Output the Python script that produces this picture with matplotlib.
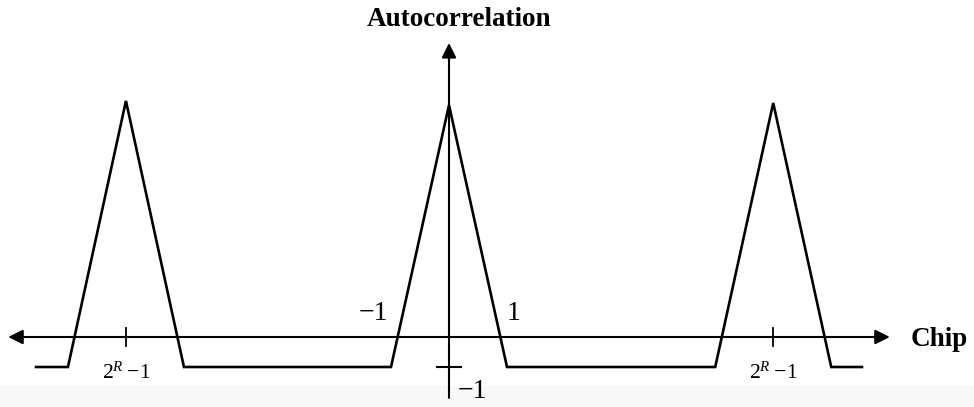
import matplotlib.pyplot as plt

# schematic m-sequence autocorrelation (units: chips / correlation value)
peak_centers = [-5.57, 0.0, 5.59]
peak_heights = [7.87, 7.73, 7.8]
low_level = -1.0
half_width = 1.0
line_start, line_end = -7.12, 7.12

tick_labels = ["$2^{R}$\u2009\u22121", "$2^{R}$\u2009\u22121"]

plt.rcParams['font.family'] = ['Liberation Serif', 'DejaVu Serif']
plt.rcParams['mathtext.fontset'] = 'custom'
plt.rcParams['mathtext.rm'] = 'Liberation Serif'
plt.rcParams['mathtext.it'] = 'Liberation Serif:italic'

fig = plt.figure(figsize=(9.74, 4.07), dpi=100)
ax = fig.add_axes([0, 0, 1, 1])
ax.set_xlim(-449 / 58, (974 - 449) / 58)
ax.set_ylim((337 - 407) / 30, 337 / 30)
ax.axis('off')

# light grey band at the bottom of the scan
ax.axhspan((337 - 407) / 30, (337 - 386) / 30, color='#f8f8f8', zorder=0)

# build the polyline from the peaks
xs = [line_start]
ys = [low_level]
for c, h in zip(peak_centers, peak_heights):
    xs += [c - half_width, c, c + half_width]
    ys += [low_level, h, low_level]
xs.append(line_end)
ys.append(low_level)
ax.plot(xs, ys, color='black', lw=1.9, solid_joinstyle='miter', zorder=3)

# axes with arrows
arrow = dict(arrowstyle='<|-|>', color='black', lw=1.5,
             mutation_scale=22, shrinkA=0, shrinkB=0)
ax.annotate('', xy=(-7.60, 0), xytext=(7.60, 0), arrowprops=arrow)
ax.annotate('', xy=(0, 9.8), xytext=(0, -2.03),
            arrowprops=dict(arrowstyle='-|>', color='black', lw=1.5,
                            mutation_scale=22, shrinkA=0, shrinkB=0))

# ticks
for c in (peak_centers[0], peak_centers[2]):
    ax.plot([c, c], [-0.3, 0.3], color='black', lw=1.3)
ax.plot([-0.2, 0.2], [low_level, low_level], color='black', lw=1.5)

# labels
ax.text(0.17, 10.6, 'Autocorrelation', ha='center', va='center',
        fontsize=19.5, fontweight='bold')
ax.text(8.45, -0.08, 'Chip', ha='center', va='center',
        fontsize=19.5, fontweight='bold')
for c, lab in zip((peak_centers[0], peak_centers[2]), tick_labels):
    ax.text(c, -1.2, lab, ha='center', va='center', fontsize=15.5)
ax.text(-1.31, 0.8, '\u22121', ha='center', va='center', fontsize=20)
ax.text(1.12, 0.8, '1', ha='center', va='center', fontsize=20)
ax.text(0.40, -1.83, '\u22121', ha='center', va='center', fontsize=20)

fig.savefig('out.png', dpi=100)
